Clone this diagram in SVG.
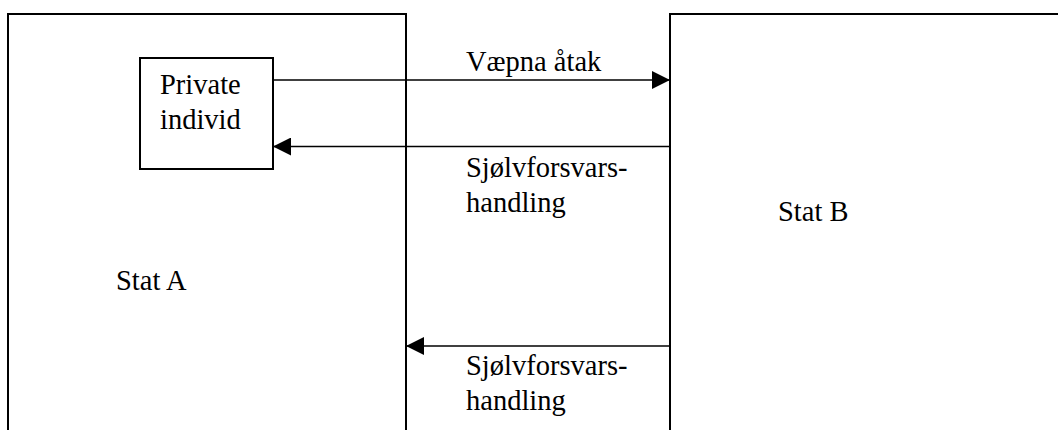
<svg xmlns="http://www.w3.org/2000/svg" width="1058" height="430" viewBox="0 0 1058 430">
  <style>
    .box { fill: none; stroke: #000; stroke-width: 2; }
    .link { fill: none; stroke: #000; stroke-width: 1.6; }
    .lbl { font-family: "Liberation Serif", "Times New Roman", serif; font-size: 28.5px; fill: #000; }
  </style>
  <defs>
    <marker id="head" viewBox="0 0 18 18" refX="18" refY="9" markerWidth="18" markerHeight="18" markerUnits="userSpaceOnUse" orient="auto">
      <path d="M0,0 L18,9 L0,18 Z" fill="#000"/>
    </marker>
  </defs>
  <rect width="1058" height="430" fill="#fff"/>

  <!-- State A: open at the bottom edge -->
  <g id="stat-a">
    <path class="box" d="M8,432 V14 H406 V432"/>
    <text class="lbl" x="116" y="290">Stat A</text>
  </g>

  <!-- State B: runs off the right and bottom edges -->
  <g id="stat-b">
    <path class="box" d="M670,432 V14 H1060"/>
    <text class="lbl" x="778" y="221">Stat B</text>
  </g>

  <!-- Private individuals inside state A -->
  <g id="private-individ">
    <rect class="box" x="140" y="58" width="133" height="111"/>
    <text class="lbl" x="160" y="94">Private</text>
    <text class="lbl" x="160" y="129">individ</text>
  </g>

  <g id="connectors">
    <line class="link" x1="273" y1="80" x2="670" y2="80" marker-end="url(#head)"/>
    <line class="link" x1="670" y1="146.5" x2="273" y2="146.5" marker-end="url(#head)"/>
    <line class="link" x1="670" y1="346" x2="406" y2="346" marker-end="url(#head)"/>
  </g>

  <g id="labels">
    <text class="lbl" x="466" y="71">Væpna åtak</text>
    <text class="lbl" x="466" y="177">Sjølvforsvars-</text>
    <text class="lbl" x="466" y="212">handling</text>
    <text class="lbl" x="466" y="375">Sjølvforsvars-</text>
    <text class="lbl" x="466" y="410">handling</text>
  </g>
</svg>
